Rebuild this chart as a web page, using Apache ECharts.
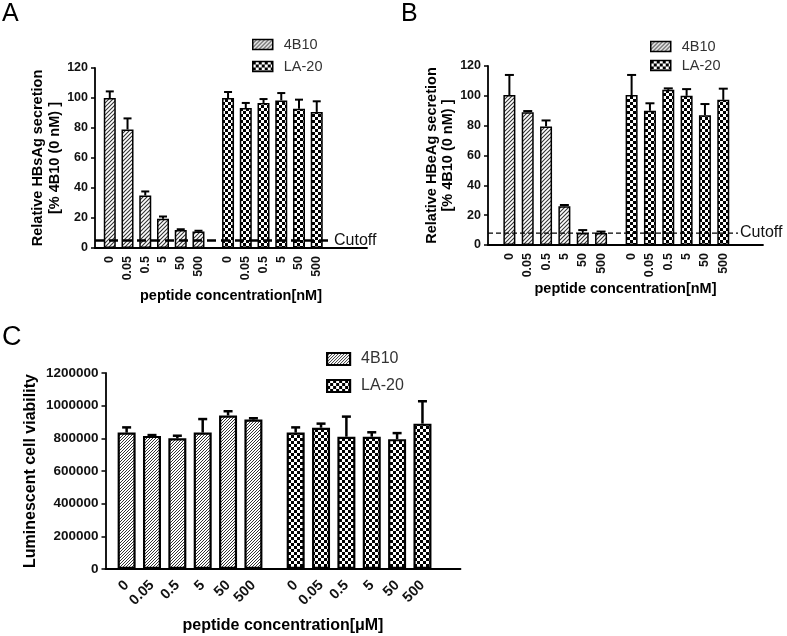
<!DOCTYPE html>
<html><head><meta charset="utf-8">
<script src="https://cdn.jsdelivr.net/npm/echarts@6/dist/echarts.min.js"></script>
<style>html,body{margin:0;padding:0;background:#fff}#c{width:787px;height:636px}</style>
</head><body><div id="c"></div>
<script>
// ---------- data ----------
const concLabels = ['0', '0.05', '0.5', '5', '50', '500'];
const seriesNames = ['4B10', 'LA-20'];

const hbsag4B10 = [100, 79, 35, 19.5, 12, 11];
const hbsag4B10Err = [4.4, 7.4, 2.7, 1.5, 0.5, 0.5];
const hbsagLA20 = [100, 93.3, 96.7, 98.4, 92.9, 90.7];
const hbsagLA20Err = [4, 3.4, 2.6, 4.9, 6, 7.1];
const hbsagCutoff = 5;

const hbeag4B10 = [100.5, 89, 79.5, 26, 8, 8];
const hbeag4B10Err = [13.5, 0.8, 4, 0.8, 2, 1];
const hbeagLA20 = [100.5, 90, 104, 100, 87, 97.3];
const hbeagLA20Err = [13.5, 5, 1, 4.5, 7.5, 7.5];
const hbeagCutoff = 8;

const viab4B10 = [835000, 815000, 800000, 835000, 940000, 915000];
const viab4B10Err = [32000, 5000, 16000, 83000, 26000, 8000];
const viabLA20 = [835000, 865000, 810000, 810000, 795000, 890000];
const viabLA20Err = [32000, 25000, 123000, 27000, 37000, 137000];

const pctAxis = { min: 0, max: 120, interval: 20 };
const viabAxis = { min: 0, max: 1200000, interval: 200000 };

// ---------- patterns ----------
function hatch(size, color, lw) {
  const c = document.createElement('canvas'); c.width = c.height = size;
  const x = c.getContext('2d');
  x.fillStyle = '#fff'; x.fillRect(0, 0, size, size);
  x.strokeStyle = color; x.lineWidth = lw; x.beginPath();
  x.moveTo(-1, size + 1); x.lineTo(size + 1, -1);
  x.moveTo(-1, 1); x.lineTo(1, -1);
  x.moveTo(size - 1, size + 1); x.lineTo(size + 1, size - 1);
  x.stroke();
  return { image: c, repeat: 'repeat' };
}
function checker(cell) {
  const c = document.createElement('canvas'); c.width = c.height = cell * 2;
  const x = c.getContext('2d');
  x.fillStyle = '#fff'; x.fillRect(0, 0, cell * 2, cell * 2);
  x.fillStyle = '#000'; x.fillRect(0, 0, cell, cell); x.fillRect(cell, cell, cell, cell);
  return { image: c, repeat: 'repeat' };
}
const hatchAB = hatch(4, '#333', 1.1);
const hatchC = hatch(3, '#333', 1);
const checkAB = checker(3);
const checkC = checker(3);

const FONT = 'Liberation Sans, Arial, Helvetica, sans-serif';

// ---------- panels ----------
const panels = [
  { g: { left: 95, top: 68, width: 272, height: 180 }, lead: 2, total: 46, vals: [hbsag4B10, hbsagLA20], errs: [hbsag4B10Err, hbsagLA20Err],
    cutoff: hbsagCutoff, cut: { lw: 2.5, dash: [9, 5], textOff: -33 }, yRange: pctAxis,
    yName: 'Relative HBsAg secretion\n[% 4B10 (0 nM) ]', yGap: 32, yLH: 17, xName: 'peptide concentration[nM]', xGap: 40,
    barW: 12, capW: 8, elw: 2, bw: 1.5, fills: [hatchAB, checkAB], rot: 90, fs: 12.5, yfs: 12.5, lm: 8, nameFs: 14.5,
    legend: { left: 252, top: 37, iw: 20, ih: 10, gap: 7, fs: 14.5 } },
  { g: { left: 488, top: 66, width: 275, height: 179 }, lead: 3, total: 45, vals: [hbeag4B10, hbeagLA20], errs: [hbeag4B10Err, hbeagLA20Err],
    cutoff: hbeagCutoff, cut: { lw: 1.3, dash: [5, 3], textOff: -23 }, yRange: pctAxis,
    yName: 'Relative HBeAg secretion\n[% 4B10 (0 nM) ]', yGap: 27, yLH: 16, xName: 'peptide concentration[nM]', xGap: 34,
    barW: 12, capW: 9, elw: 2, bw: 1.5, fills: [hatchAB, checkAB], rot: 90, fs: 12.5, yfs: 12.5, lm: 8, nameFs: 14.5,
    legend: { left: 650, top: 39, iw: 20, ih: 10, gap: 4, fs: 14.5 } },
  { g: { left: 105.5, top: 373, width: 355, height: 196 }, lead: 2, total: 42, vals: [viab4B10, viabLA20], errs: [viab4B10Err, viabLA20Err],
    cutoff: null, yRange: viabAxis,
    yName: 'Luminescent cell viability', yGap: 66, yLH: 18, xName: 'peptide concentration[\u03bcM]', xGap: 49,
    barW: 18, capW: 9, elw: 2.5, bw: 2.2, fills: [hatchC, checkC], rot: 45, fs: 14.5, yfs: 13.5, lm: 14, nameFs: 16,
    legend: { left: 326, top: 351, iw: 23, ih: 12, gap: 11, fs: 16 } }
];

const option = {
  animation: false,
  textStyle: { fontFamily: FONT },
  grid: [], xAxis: [], yAxis: [], series: [], legend: [],
  graphic: [
    { type: 'text', left: 2, top: 2, style: { text: 'A', font: '25px ' + FONT, fill: '#000' } },
    { type: 'text', left: 401, top: 2, style: { text: 'B', font: '25px ' + FONT, fill: '#000' } },
    { type: 'text', left: 2, top: 324, style: { text: 'C', font: '27px ' + FONT, fill: '#000' } }
  ]
};

panels.forEach((p, k) => {
  const slots = [
    concLabels.map((_, i) => p.lead + 3 * i),
    concLabels.map((_, i) => p.lead + 20 + 3 * i)
  ];
  const slotSet = new Set(slots[0].concat(slots[1]));
  const cats = new Array(p.total).fill('');
  slots.forEach(s => s.forEach((idx, i) => { cats[idx] = concLabels[i]; }));

  option.grid.push(Object.assign({ containLabel: false }, p.g));
  option.xAxis.push({
    type: 'category', gridIndex: k, data: cats,
    name: p.xName, nameLocation: 'middle', nameGap: p.xGap,
    nameTextStyle: { fontWeight: 'bold', fontSize: p.nameFs, color: '#000' },
    axisLine: { lineStyle: { color: '#000', width: 1.8 } },
    axisTick: { alignWithLabel: true, length: 4, interval: (i) => slotSet.has(i), lineStyle: { color: '#000', width: 1.5 } },
    axisLabel: { interval: 0, rotate: p.rot, margin: p.lm, fontWeight: 'bold', fontSize: p.fs, color: '#111' },
    splitLine: { show: false }
  });
  option.yAxis.push({
    type: 'value', gridIndex: k, min: p.yRange.min, max: p.yRange.max, interval: p.yRange.interval,
    name: p.yName, nameLocation: 'middle', nameGap: p.yGap,
    nameTextStyle: { fontWeight: 'bold', fontSize: p.nameFs, color: '#000', lineHeight: p.yLH },
    axisLine: { show: true, lineStyle: { color: '#000', width: 1.8 } },
    axisTick: { show: true, length: 4, lineStyle: { color: '#000', width: 1.5 } },
    axisLabel: { margin: 7, fontWeight: 'bold', fontSize: p.yfs, color: '#111', formatter: v => String(v) },
    splitLine: { show: false }
  });

  seriesNames.forEach((nm, j) => {
    const data = new Array(p.total).fill('-');
    slots[j].forEach((idx, i) => { data[idx] = p.vals[j][i]; });
    option.series.push({
      type: 'bar', name: nm, xAxisIndex: k, yAxisIndex: k, data,
      barWidth: p.barW, barGap: '-100%',
      itemStyle: { color: p.fills[j], borderColor: '#000', borderWidth: p.bw },
      emphasis: { disabled: true }, z: 2
    });
    option.series.push({
      type: 'custom', name: nm + ' error', xAxisIndex: k, yAxisIndex: k, z: 5, silent: true,
      data: slots[j].map((idx, i) => [idx, p.vals[j][i], p.errs[j][i]]),
      encode: { x: 0, y: 1 },
      renderItem: (params, api) => {
        const a = api.coord([api.value(0), api.value(1)]);
        const b = api.coord([api.value(0), api.value(1) + api.value(2)]);
        const st = { stroke: '#000', lineWidth: p.elw };
        return { type: 'group', children: [
          { type: 'line', shape: { x1: a[0], y1: a[1], x2: b[0], y2: b[1] }, style: st },
          { type: 'line', shape: { x1: b[0] - p.capW / 2, y1: b[1], x2: b[0] + p.capW / 2, y2: b[1] }, style: st }
        ] };
      }
    });
  });

  if (p.cutoff != null) {
    option.series.push({
      type: 'custom', name: 'Cutoff', xAxisIndex: k, yAxisIndex: k, z: 6, silent: true,
      data: [[0, p.cutoff]], encode: { x: 0, y: 1 },
      renderItem: (params, api) => {
        const cs = params.coordSys;
        const y = api.coord([0, api.value(1)])[1];
        const tx = cs.x + cs.width + p.cut.textOff;
        return { type: 'group', children: [
          { type: 'line', shape: { x1: cs.x, y1: y, x2: tx - 2, y2: y }, style: { stroke: '#000', lineWidth: p.cut.lw, lineDash: p.cut.dash } },
          { type: 'text', x: tx, y: y, style: { text: 'Cutoff', font: '16px ' + FONT, fill: '#111', verticalAlign: 'middle', align: 'left' } }
        ] };
      }
    });
  }

  const L = p.legend;
  option.legend.push({
    orient: 'vertical', left: L.left, top: L.top, padding: 0, itemGap: L.gap,
    itemWidth: L.iw, itemHeight: L.ih, icon: 'rect', selectedMode: false,
    textStyle: { fontSize: L.fs, color: '#333', padding: [0, 0, 0, 6] },
    data: seriesNames.map((nm, j) => ({ name: nm, itemStyle: { color: p.fills[j], borderColor: '#000', borderWidth: p.bw } }))
  });
});

const chart = echarts.init(document.getElementById('c'), null, { renderer: 'canvas' });
chart.setOption(option);
</script>
</body></html>
